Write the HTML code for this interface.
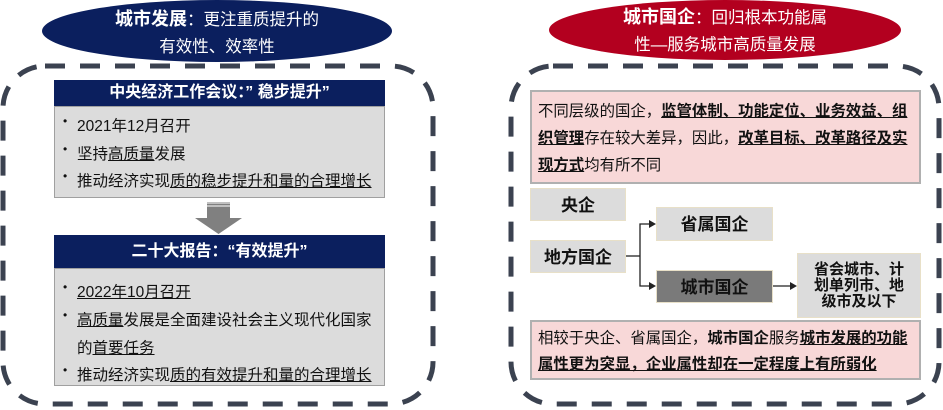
<!DOCTYPE html>
<html><head><meta charset="utf-8"><style>
body{margin:0;width:943px;height:410px;background:#fff;position:relative;overflow:hidden;font-family:"Liberation Sans","Noto Sans CJK SC",sans-serif;}
.a{position:absolute;box-sizing:border-box;}
.hd{background:#0b1f5e;color:#fff;font-weight:bold;font-size:16px;text-align:center;}
.bd{background:#dcdcdc;border:1px solid #a0a0a0;font-size:15.5px;color:#111;}
.li{position:absolute;left:22px;white-space:nowrap;}
.b:before{content:"•";position:absolute;left:-14px;font-size:12px;}
u{text-decoration:underline;}
.pk{background:#f8d8d8;border:2px solid #b0b0b0;font-size:15.4px;color:#111;line-height:27px;padding:6px 6px 0 6px;}
.g{background:#dcdcdc;border:1px solid #e8e0c8;font-weight:bold;font-size:17px;text-align:center;color:#111;}
</style></head><body>
<svg class="a" style="left:0;top:0" width="943" height="410">
<rect x="3" y="66" width="430" height="338" rx="42" fill="none" stroke="#3b4250" stroke-width="5" stroke-dasharray="20,15"/>
<rect x="511" y="66" width="428" height="338" rx="42" fill="none" stroke="#3b4250" stroke-width="5" stroke-dasharray="20,15"/>
<ellipse cx="217" cy="31" rx="175" ry="31" fill="#0b1f5e"/>
<ellipse cx="725" cy="30" rx="176" ry="30" fill="#b3001f"/>
<polygon points="207,202 230,202 230,218 242,218 218.5,234 195,218 207,218" fill="#808080"/>
<line x1="207" y1="203" x2="230" y2="203" stroke="#fff"/>
<line x1="207" y1="206" x2="230" y2="206" stroke="#fff"/>
<g stroke="#222" stroke-width="1.3" fill="none">
<line x1="626" y1="256" x2="640" y2="256"/>
<polyline points="652,224 640,224 640,286 652,286"/>
<line x1="772" y1="286" x2="792" y2="286"/>
</g>
<g fill="#222"><polygon points="656,224 649,220 649,228"/><polygon points="656,286 649,282 649,290"/><polygon points="797,286 790,282 790,290"/></g>
</svg>
<div class="a" style="left:42px;top:6px;width:350px;text-align:center;color:#fff;font-size:16.5px;line-height:27px"><b style="font-size:18px">城市发展</b>：更注重质提升的<br>有效性、效率性</div>
<div class="a" style="left:549px;top:4px;width:352px;text-align:center;color:#fff;font-size:16.5px;line-height:27px"><b style="font-size:18px">城市国企</b>：回归根本功能属<br>性—服务城市高质量发展</div>

<div class="a hd" style="left:54px;top:80px;width:331px;height:26px;line-height:26px">中央经济工作会议：”&nbsp;稳步提升”</div>
<div class="a bd" style="left:54px;top:106px;width:331px;height:92px">
<div class="li b" style="top:7px">2021年12月召开</div>
<div class="li b" style="top:35px">坚持<u>高质量</u>发展</div>
<div class="li b" style="top:62px">推动经济实现<u>质的稳步提升和量的合理增长</u></div>
</div>
<div class="a hd" style="left:54px;top:235px;width:331px;height:33px;line-height:33px">二十大报告：“有效提升”</div>
<div class="a bd" style="left:54px;top:268px;width:331px;height:118px">
<div class="li b" style="top:11px"><u>2022年10月召开</u></div>
<div class="li b" style="top:39px"><u>高质量</u>发展是全面建设社会主义现代化国家</div>
<div class="li" style="top:67px">的<u>首要任务</u></div>
<div class="li b" style="top:94px">推动经济实现<u>质的有效提升和量的合理增长</u></div>
</div>

<div class="a pk" style="left:530px;top:90px;width:391px;height:94px">不同层级的国企，<u><b>监管体制、功能定位、业务效益、组织管理</b></u>存在较大差异，因此，<u><b>改革目标、改革路径及实现方式</b></u>均有所不同</div>
<div class="a g" style="left:530px;top:188px;width:96px;height:33px;line-height:33px">央企</div>
<div class="a g" style="left:530px;top:240px;width:96px;height:33px;line-height:33px">地方国企</div>
<div class="a g" style="left:656px;top:207px;width:117px;height:34px;line-height:34px">省属国企</div>
<div class="a g" style="left:656px;top:270px;width:117px;height:33px;line-height:33px;background:#7a7a7a">城市国企</div>
<div class="a g" style="left:797px;top:253px;width:124px;height:65px;font-size:15px;line-height:16px;padding-top:8px">省会城市、计<br>划单列市、地<br>级市及以下</div>
<div class="a pk" style="left:530px;top:320px;width:391px;height:60px;line-height:26px;padding-top:4px">相较于央企、省属国企，<b>城市国企</b>服务<u><b>城市发展的功能属性更为突显，企业属性却在一定程度上有所弱化</b></u></div>
</body></html>
